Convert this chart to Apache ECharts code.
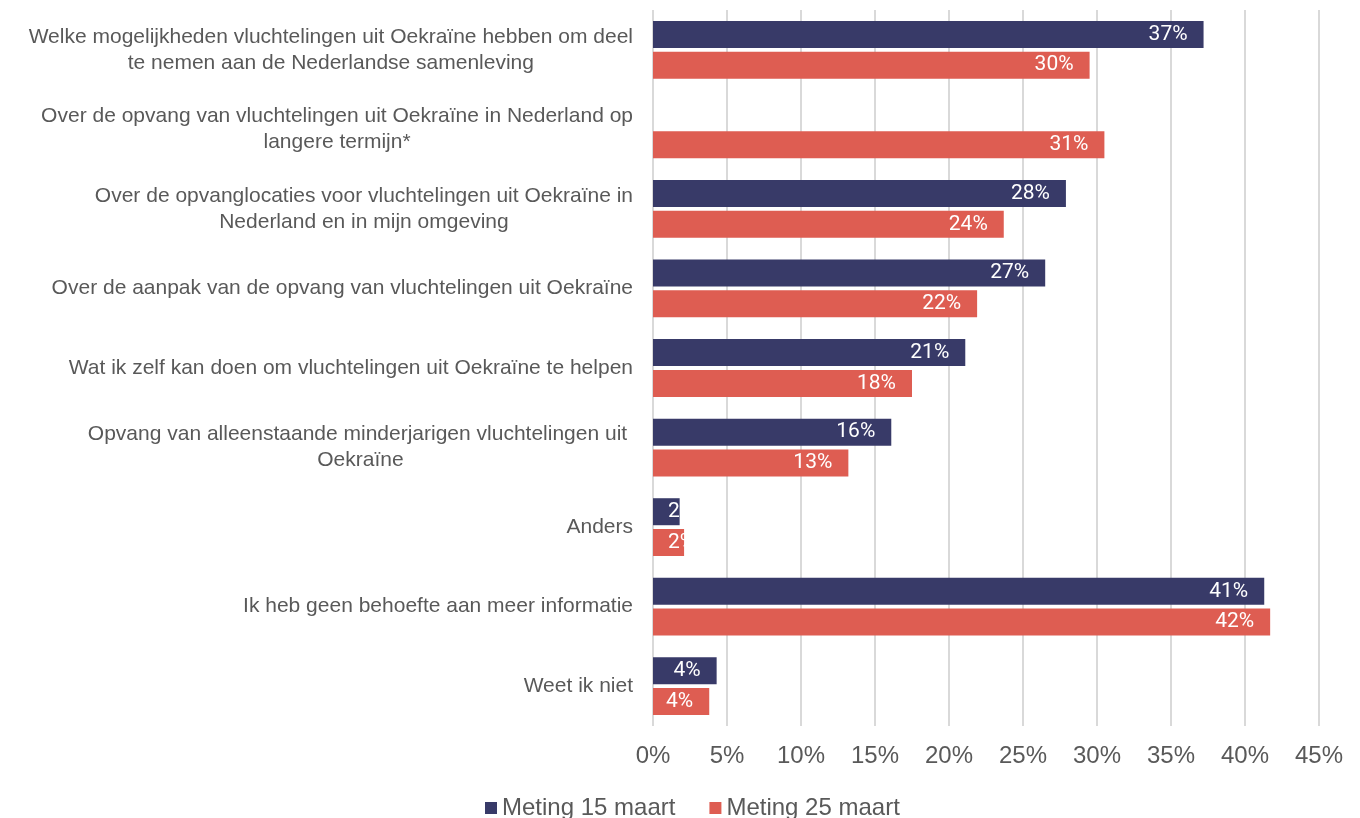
<!DOCTYPE html>
<html>
<head>
<meta charset="utf-8">
<script src="https://cdn.jsdelivr.net/npm/echarts@6/dist/echarts.min.js"></script>
<style>
  html, body { margin: 0; padding: 0; background: #fff; }
  #chart { width: 1360px; height: 818px; }
</style>
</head>
<body>
<div id="chart"></div>
<script>
var categories = [
  'Welke mogelijkheden vluchtelingen uit Oekraïne hebben om deel\nte nemen aan de Nederlandse samenleving',
  'Over de opvang van vluchtelingen uit Oekraïne in Nederland op\nlangere termijn*',
  'Over de opvanglocaties voor vluchtelingen uit Oekraïne in\nNederland en in mijn omgeving',
  'Over de aanpak van de opvang van vluchtelingen uit Oekraïne',
  'Wat ik zelf kan doen om vluchtelingen uit Oekraïne te helpen',
  'Opvang van alleenstaande minderjarigen vluchtelingen uit \nOekraïne',
  'Anders',
  'Ik heb geen behoefte aan meer informatie',
  'Weet ik niet'
];
var meting15 = [37.2, null, 27.9, 26.5, 21.1, 16.1, 1.8, 41.3, 4.3];
var meting25 = [29.5, 30.5, 23.7, 21.9, 17.5, 13.2, 2.1, 41.7, 3.8];
var seriesNames = ['Meting 15 maart', 'Meting 25 maart'];
var colors = ['#383A68', '#DE5D52'];

var textFont = '"Liberation Sans", Arial, sans-serif';

var chart = echarts.init(document.getElementById('chart'));

function barData(values) {
  return values.map(function (v) {
    if (v !== null && v < 3) {
      // te smalle balk: label start links in de balk
      return { value: v, label: { position: 'insideLeft', distance: 15 } };
    }
    return v;
  });
}

function makeSeries(i, values) {
  return {
    name: seriesNames[i],
    type: 'bar',
    barWidth: 27,
    barGap: '14%',
    itemStyle: { color: colors[i] },
    label: {
      show: true,
      position: 'insideRight',
      distance: 16,
      color: '#fff',
      fontFamily: 'Roboto',
      fontSize: 21,
      formatter: function (p) { return Math.round(p.value) + '%'; }
    },
    data: barData(values)
  };
}

var option = {
  animation: false,
  color: colors,
  grid: { left: 653, right: 41, top: 10, bottom: 92 },
  legend: {
    top: 791,
    left: 480,
    itemWidth: 12,
    itemHeight: 12,
    itemGap: 34,
    icon: 'rect',
    textStyle: { fontFamily: textFont, fontSize: 24, color: '#595959' },
    data: seriesNames
  },
  xAxis: {
    type: 'value',
    min: 0,
    max: 45,
    interval: 5,
    axisLine: { show: false },
    axisTick: { show: false },
    axisLabel: {
      formatter: '{value}%',
      margin: 18,
      fontFamily: textFont,
      fontSize: 24,
      color: '#595959'
    },
    splitLine: { lineStyle: { color: '#d9d9d9', width: 2 } }
  },
  yAxis: {
    type: 'category',
    inverse: true,
    data: categories,
    axisLine: { show: false },
    axisTick: { show: false },
    axisLabel: {
      margin: 20,
      align: 'right',
      formatter: function (v) {
        return v.split('\n').map(function (l) { return '{c|' + l + '}'; }).join('\n');
      },
      rich: {
        c: { align: 'center', fontFamily: textFont, fontSize: 21, color: '#595959', lineHeight: 26 }
      }
    }
  },
  series: [makeSeries(0, meting15), makeSeries(1, meting25)]
};

chart.setOption(option);
</script>
</body>
</html>
